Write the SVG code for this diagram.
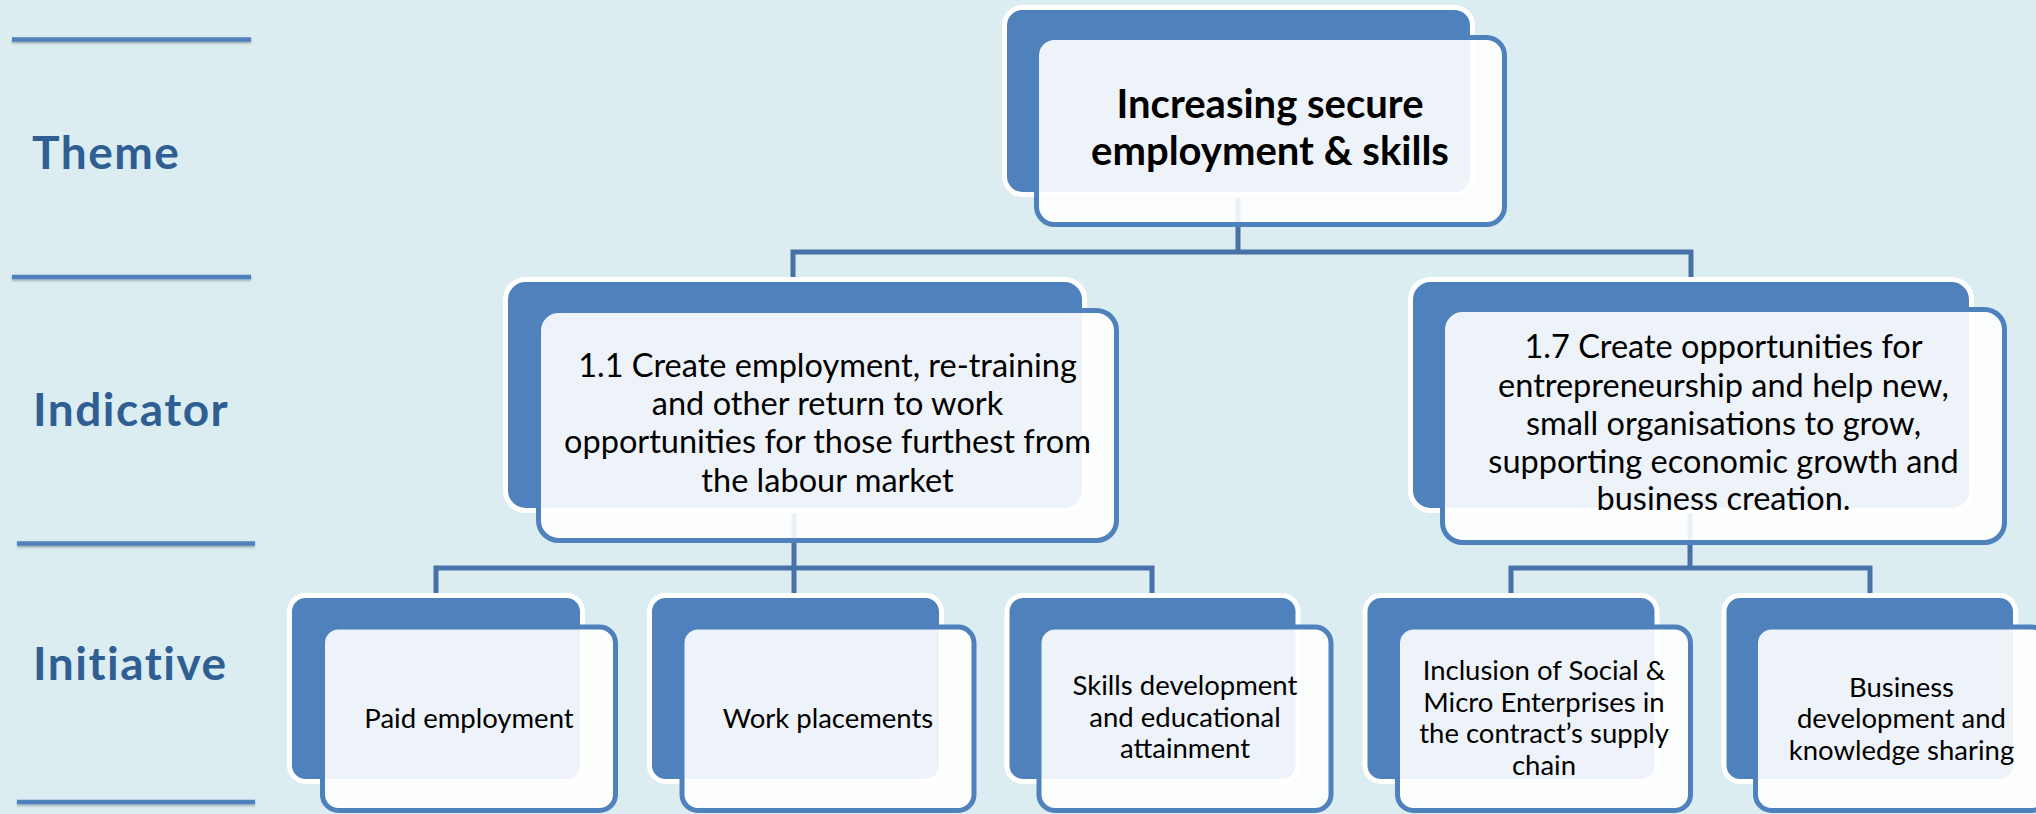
<svg xmlns="http://www.w3.org/2000/svg" width="2036" height="814" viewBox="0 0 2036 814">
  <defs>
    <style>
      .bg { fill: #DBEDF1; }
      .rule { stroke: #4F81BD; stroke-width: 4.5; filter: url(#soft); }
      .lbl { font-family: Lato, "Liberation Sans", sans-serif; font-weight: 700; font-size: 46px; fill: #2F5E93; letter-spacing: 1.5px; }
      .back { fill: #4F81BD; stroke: #FFFFFF; stroke-width: 5; }
      .front { fill: #FFFFFF; fill-opacity: 0.9; stroke: #4F81BD; stroke-width: 5; }
      .conn { fill: none; stroke: #4672A8; stroke-width: 5; }
      .t { font-family: Lato, "Liberation Sans", sans-serif; fill: #000000; text-anchor: middle; }
      .t1 { font-size: 40px; font-weight: 700; }
      .t2 { font-size: 32.5px; }
      .t3 { font-size: 27.5px; }
    </style>
    <!-- soft shadow under the level rules (user-space region: the lines have no height) -->
    <filter id="soft" filterUnits="userSpaceOnUse" x="0" y="0" width="300" height="814">
      <feDropShadow dx="0" dy="1.5" stdDeviation="1" flood-color="#000000" flood-opacity="0.3"/>
    </filter>
  </defs>

  <rect class="bg" x="0" y="0" width="2036" height="814"/>

  <!-- level rules and labels -->
  <g id="levels">
    <line class="rule" x1="12" y1="39.5" x2="251" y2="39.5"/>
    <line class="rule" x1="12" y1="277" x2="251" y2="277"/>
    <line class="rule" x1="17" y1="543.5" x2="255" y2="543.5"/>
    <line class="rule" x1="17" y1="802" x2="255" y2="802"/>
    <text class="lbl" x="32" y="169">Theme</text>
    <text class="lbl" x="33" y="426">Indicator</text>
    <text class="lbl" x="33" y="680">Initiative</text>
  </g>

  <!-- connectors, drawn beneath the boxes -->
  <g id="connectors">
    <path class="conn" d="M1238 195 V252 M793 282 V252 H1691 V282"/>
    <path class="conn" d="M794 510 V568 M436 598 V568 H1152 V598 M794 568 V598"/>
    <path class="conn" d="M1690 510 V568 M1511 598 V568 H1870 V598"/>
  </g>

  <!-- theme -->
  <g id="theme">
    <rect class="back" x="1004.5" y="7.5" width="468" height="187" rx="18"/>
    <rect class="front" x="1036.5" y="37.5" width="468" height="187" rx="18"/>
    <text class="t t1" x="1270" y="118">Increasing secure</text>
    <text class="t t1" x="1270" y="165">employment &amp; skills</text>
  </g>

  <!-- indicators -->
  <g id="indicator-1-1">
    <rect class="back" x="505.5" y="279.5" width="579" height="231" rx="20"/>
    <rect class="front" x="538.5" y="310.5" width="578" height="230" rx="20"/>
    <text class="t t2" x="827.5" y="377">1.1 Create employment, re-training</text>
    <text class="t t2" x="827.5" y="415">and other return to work</text>
    <text class="t t2" x="827.5" y="453">opportunities for those furthest from</text>
    <text class="t t2" x="827.5" y="492">the labour market</text>
  </g>

  <g id="indicator-1-7">
    <rect class="back" x="1410.5" y="279.5" width="561" height="231" rx="20"/>
    <rect class="front" x="1442.5" y="309.5" width="562" height="233" rx="20"/>
    <text class="t t2" x="1723.5" y="358">1.7 Create opportunities for</text>
    <text class="t t2" x="1723.5" y="397">entrepreneurship and help new,</text>
    <text class="t t2" x="1723.5" y="435">small organisations to grow,</text>
    <text class="t t2" x="1723.5" y="473">supporting economic growth and</text>
    <text class="t t2" x="1723.5" y="510">business creation.</text>
  </g>

  <!-- initiatives -->
  <g id="initiative-paid-employment">
    <rect class="back" x="289.5" y="595.5" width="293" height="186" rx="16"/>
    <rect class="front" x="322.5" y="627" width="293" height="183.5" rx="16"/>
    <text class="t t3" x="469" y="728">Paid employment</text>
  </g>

  <g id="initiative-work-placements">
    <rect class="back" x="649.5" y="595.5" width="292" height="186" rx="16"/>
    <rect class="front" x="682" y="627" width="292" height="183.5" rx="16"/>
    <text class="t t3" x="828" y="728">Work placements</text>
  </g>

  <g id="initiative-skills">
    <rect class="back" x="1007" y="595.5" width="291" height="186" rx="16"/>
    <rect class="front" x="1039" y="627" width="292" height="183.5" rx="16"/>
    <text class="t t3" x="1185" y="695">Skills development</text>
    <text class="t t3" x="1185" y="727">and educational</text>
    <text class="t t3" x="1185" y="758">attainment</text>
  </g>

  <g id="initiative-social-enterprises">
    <rect class="back" x="1365" y="595.5" width="292" height="186" rx="16"/>
    <rect class="front" x="1397.5" y="627" width="293" height="183.5" rx="16"/>
    <text class="t t3" x="1544" y="680">Inclusion of Social &amp;</text>
    <text class="t t3" x="1544" y="712">Micro Enterprises in</text>
    <text class="t t3" x="1544" y="743">the contract’s supply</text>
    <text class="t t3" x="1544" y="775">chain</text>
  </g>

  <g id="initiative-business-development">
    <rect class="back" x="1724" y="595.5" width="291.5" height="186" rx="16"/>
    <rect class="front" x="1755.5" y="627" width="292" height="183.5" rx="16"/>
    <text class="t t3" x="1901.5" y="697">Business</text>
    <text class="t t3" x="1901.5" y="728">development and</text>
    <text class="t t3" x="1901.5" y="760">knowledge sharing</text>
  </g>
</svg>
